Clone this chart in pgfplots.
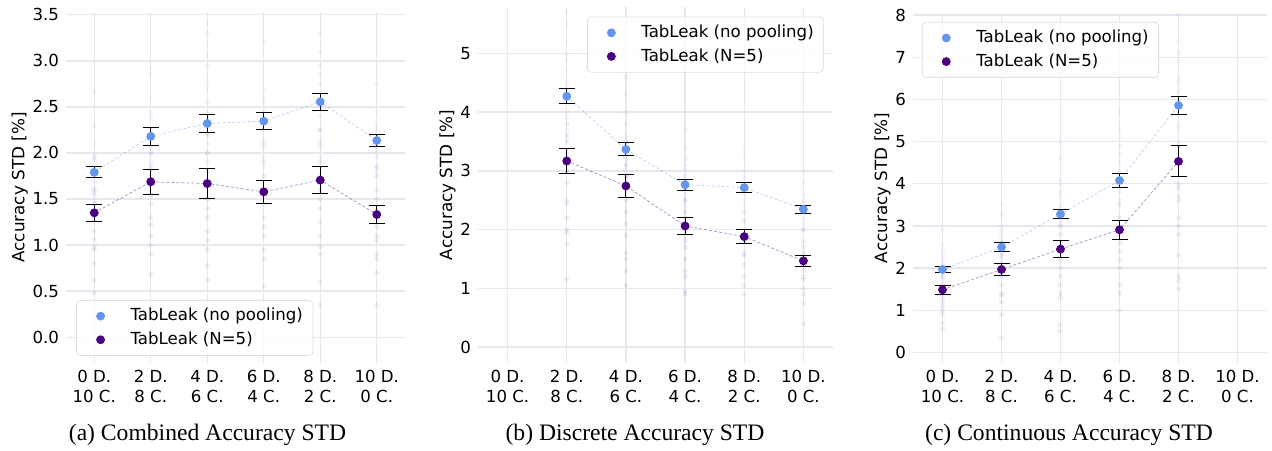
\documentclass[border=0pt]{standalone}
\usepackage{fontspec}
\setmainfont{DejaVu Sans}
\newfontfamily\capfont{Liberation Serif}
\usepackage{pgfplots}
\pgfplotsset{compat=1.18}
\definecolor{cblue}{HTML}{6495ED}
\definecolor{cpurp}{HTML}{4B0082}
\definecolor{gridc}{HTML}{E8E8EC}

\pgfplotsset{
  panel/.style={
    scale only axis, anchor=south west,
    xmin=-0.5, xmax=5.5,
    axis line style={draw=none},
    major tick length=0pt,
    grid=major, grid style={gridc, line width=0.7pt},
    xtick={0,...,5},
    xticklabels={{0 D.\\10 C.},{2 D.\\8 C.},{4 D.\\6 C.},{6 D.\\4 C.},{8 D.\\2 C.},{10 D.\\0 C.}},
    xticklabel style={align=center, font=\fontsize{8.3}{10}\selectfont},
    yticklabel style={font=\fontsize{8.3}{10}\selectfont},
    /pgf/number format/assume math mode=true,
    ylabel={Accuracy STD [\%]},
    ylabel style={font=\fontsize{8.4}{10}\selectfont},
    ylabel shift=-4.5pt,
    legend cell align=left,
    legend image code/.code={\path[draw=none] (0pt,0pt) -- (22pt,0pt);
      \draw[#1, fill opacity=1, draw opacity=1] plot coordinates {(9pt,0pt)};},
    legend style={draw=gray!25, rounded corners=2pt, fill=white, fill opacity=0.8,
      text opacity=1, font=\fontsize{8.3}{10}\selectfont, row sep=0pt,
      inner xsep=3pt, inner ysep=2pt},
  },
  faint/.style={forget plot, only marks, mark=*, mark size=1.3pt,
    mark options={draw opacity=0, fill opacity=0.07}},
  conn/.style={forget plot, no marks, line width=0.35pt, draw opacity=0.45,
    dash pattern=on 1.5pt off 1pt},
  ebar/.style={forget plot, draw=none, mark=none,
    error bars/.cd, y dir=both, y explicit,
    error bar style={draw=black, line width=0.55pt},
    error mark options={rotate=90, mark size=4pt, draw=black, line width=0.5pt}},
  pts/.style={forget plot, only marks, mark=*, mark size=2pt},
}

\begin{document}
\begin{tikzpicture}
\path[use as bounding box] (0,0) rectangle (636pt,225pt);

% (a) combined
\begin{axis}[panel, at={(33pt,43.5pt)}, width=169.5pt, height=175.5pt,
  ymin=-0.28, ymax=3.53, ytick={0,0.5,...,3.5},
  yticklabel style={/pgf/number format/.cd, fixed, fixed zerofill, precision=1},
  legend style={at={(0.03,0.02)}, anchor=south west}]
\addplot[faint, cblue] coordinates {
 (0,2.67) (0,2.30) (0,2.09) (0,1.98) (0,1.92) (0,1.85) (0,1.78) (0,1.69) (0,1.62) (0,1.58) (0,1.49)
 (1,2.92) (1,2.85) (1,2.60) (1,2.45) (1,2.38) (1,2.25) (1,2.15) (1,2.05) (1,1.98) (1,1.90) (1,1.80) (1,1.70)
 (2,3.40) (2,3.30) (2,3.05) (2,2.95) (2,2.75) (2,2.70) (2,2.55) (2,2.45) (2,2.30) (2,2.20) (2,2.10) (2,2.00) (2,1.90)
 (3,3.20) (3,2.70) (3,2.60) (3,2.55) (3,2.45) (3,2.35) (3,2.25) (3,2.15) (3,2.05) (3,1.95) (3,1.85)
 (4,3.30) (4,3.10) (4,2.95) (4,2.85) (4,2.75) (4,2.65) (4,2.50) (4,2.40) (4,2.25) (4,2.15) (4,2.05) (4,1.95)
 (5,2.75) (5,2.45) (5,2.30) (5,2.25) (5,2.15) (5,2.08) (5,2.00) (5,1.95) (5,1.85) (5,1.80)};
\addplot[faint, cpurp] coordinates {
 (0,1.95) (0,1.60) (0,1.55) (0,1.45) (0,1.35) (0,1.27) (0,1.15) (0,1.06) (0,0.98) (0,0.95) (0,0.80) (0,0.62) (0,0.48)
 (1,2.00) (1,1.85) (1,1.75) (1,1.65) (1,1.55) (1,1.45) (1,1.30) (1,1.22) (1,1.10) (1,1.00) (1,0.90) (1,0.68)
 (2,2.20) (2,2.00) (2,1.80) (2,1.65) (2,1.50) (2,1.40) (2,1.30) (2,1.15) (2,1.05) (2,0.95) (2,0.78) (2,0.62)
 (3,2.10) (3,1.90) (3,1.75) (3,1.60) (3,1.45) (3,1.30) (3,1.20) (3,1.10) (3,0.95) (3,0.85) (3,0.55)
 (4,2.25) (4,2.10) (4,1.90) (4,1.75) (4,1.60) (4,1.50) (4,1.40) (4,1.25) (4,1.10) (4,0.98) (4,0.90) (4,0.60) (4,0.35)
 (5,1.85) (5,1.75) (5,1.60) (5,1.50) (5,1.40) (5,1.30) (5,1.20) (5,1.10) (5,1.05) (5,0.90) (5,0.85) (5,0.70) (5,0.35)};
\addplot[conn, cblue] coordinates {(0,1.79) (1,2.18) (2,2.32) (3,2.345) (4,2.555) (5,2.135)};
\addplot[conn, cpurp] coordinates {(0,1.35) (1,1.687) (2,1.668) (3,1.578) (4,1.705) (5,1.332)};
\addplot[ebar] coordinates {(0,1.79) +- (0,0.058) (1,2.18) +- (0,0.10) (2,2.32) +- (0,0.10)
  (3,2.345) +- (0,0.092) (4,2.555) +- (0,0.093) (5,2.135) +- (0,0.065)};
\addplot[ebar] coordinates {(0,1.35) +- (0,0.092) (1,1.687) +- (0,0.134) (2,1.668) +- (0,0.16)
  (3,1.578) +- (0,0.122) (4,1.705) +- (0,0.149) (5,1.332) +- (0,0.093)};
\addplot[pts, cblue] coordinates {(0,1.79) (1,2.18) (2,2.32) (3,2.345) (4,2.555) (5,2.135)};
\addplot[pts, cpurp] coordinates {(0,1.35) (1,1.687) (2,1.668) (3,1.578) (4,1.705) (5,1.332)};
\addlegendimage{only marks, mark=*, mark size=2pt, cblue}
\addlegendentry{TabLeak (no pooling)}
\addlegendimage{only marks, mark=*, mark size=2pt, cpurp}
\addlegendentry{TabLeak (N=5)}
\end{axis}

% (b) discrete
\begin{axis}[panel, at={(239pt,43.5pt)}, width=177.5pt, height=178pt,
  ymin=-0.27, ymax=5.79, ytick={0,1,...,5},
  legend style={at={(0.975,0.973)}, anchor=north east}]
\addplot[faint, cblue] coordinates {
 (1,5.7) (1,5.5) (1,5.2) (1,5.0) (1,4.9) (1,4.7) (1,4.5) (1,4.4) (1,4.2) (1,4.0) (1,3.9) (1,3.7)
 (2,4.6) (2,4.3) (2,4.0) (2,3.8) (2,3.6) (2,3.5) (2,3.4) (2,3.3) (2,3.2) (2,3.0) (2,2.9)
 (3,3.7) (3,3.4) (3,3.2) (3,3.1) (3,3.0) (3,2.9) (3,2.8) (3,2.7) (3,2.6) (3,2.5) (3,2.4)
 (4,3.4) (4,3.3) (4,3.2) (4,3.0) (4,2.9) (4,2.8) (4,2.7) (4,2.6) (4,2.5) (4,2.4)
 (5,3.0) (5,2.8) (5,2.6) (5,2.5) (5,2.45) (5,2.35) (5,2.3) (5,2.2) (5,2.1) (5,2.0)};
\addplot[faint, cpurp] coordinates {
 (1,3.8) (1,3.6) (1,3.5) (1,3.3) (1,3.1) (1,3.0) (1,2.8) (1,2.5) (1,2.45) (1,2.2) (1,2.0) (1,1.95) (1,1.75) (1,1.15)
 (2,3.3) (2,3.1) (2,2.9) (2,2.7) (2,2.5) (2,2.3) (2,2.1) (2,1.9) (2,1.6) (2,1.5) (2,1.3) (2,1.05)
 (3,2.7) (3,2.5) (3,2.3) (3,2.2) (3,2.0) (3,1.9) (3,1.8) (3,1.7) (3,1.5) (3,1.3) (3,1.2) (3,0.95) (3,0.9)
 (4,2.3) (4,2.15) (4,2.0) (4,1.9) (4,1.8) (4,1.6) (4,1.55) (4,1.4) (4,1.2) (4,1.05) (4,0.9)
 (5,2.0) (5,1.8) (5,1.7) (5,1.6) (5,1.5) (5,1.4) (5,1.3) (5,1.2) (5,1.15) (5,1.0) (5,0.9) (5,0.75) (5,0.4)};
\addplot[conn, cblue] coordinates {(1,4.27) (2,3.367) (3,2.766) (4,2.715) (5,2.347)};
\addplot[conn, cpurp] coordinates {(1,3.169) (2,2.744) (3,2.063) (4,1.882) (5,1.468)};
\addplot[ebar] coordinates {(1,4.27) +- (0,0.13) (2,3.367) +- (0,0.113) (3,2.766) +- (0,0.093)
  (4,2.715) +- (0,0.083) (5,2.347) +- (0,0.07)};
\addplot[ebar] coordinates {(1,3.169) +- (0,0.213) (2,2.744) +- (0,0.193) (3,2.063) +- (0,0.142)
  (4,1.882) +- (0,0.119) (5,1.468) +- (0,0.10)};
\addplot[pts, cblue] coordinates {(1,4.27) (2,3.367) (3,2.766) (4,2.715) (5,2.347)};
\addplot[pts, cpurp] coordinates {(1,3.169) (2,2.744) (3,2.063) (4,1.882) (5,1.468)};
\addlegendimage{only marks, mark=*, mark size=2pt, cblue}
\addlegendentry{TabLeak (no pooling)}
\addlegendimage{only marks, mark=*, mark size=2pt, cpurp}
\addlegendentry{TabLeak (N=5)}
\end{axis}

% (c) continuous
\begin{axis}[panel, at={(456.5pt,43.5pt)}, width=177pt, height=175pt,
  ymin=-0.25, ymax=8.05, ytick={0,1,...,8},
  legend style={at={(0.025,0.975)}, anchor=north west}]
\addplot[faint, cblue] coordinates {
 (0,2.9) (0,2.55) (0,2.4) (0,2.3) (0,2.2) (0,2.1) (0,2.0) (0,1.9) (0,1.8) (0,1.7)
 (1,3.5) (1,3.3) (1,3.2) (1,3.0) (1,2.9) (1,2.8) (1,2.7) (1,2.6) (1,2.4) (1,2.3) (1,2.2)
 (2,5.0) (2,4.6) (2,4.1) (2,4.0) (2,3.8) (2,3.7) (2,3.5) (2,3.4) (2,3.3) (2,3.1) (2,3.0)
 (3,5.7) (3,5.3) (3,5.1) (3,4.9) (3,4.7) (3,4.5) (3,4.3) (3,4.1) (3,3.9) (3,3.8) (3,3.6)
 (4,8.0) (4,7.4) (4,7.1) (4,6.9) (4,6.5) (4,6.4) (4,6.2) (4,6.0) (4,5.6) (4,5.4) (4,5.3) (4,5.0)};
\addplot[faint, cpurp] coordinates {
 (0,1.8) (0,1.6) (0,1.5) (0,1.4) (0,1.3) (0,1.2) (0,1.1) (0,1.0) (0,0.9) (0,0.7) (0,0.55)
 (1,2.6) (1,2.3) (1,2.1) (1,2.0) (1,1.8) (1,1.6) (1,1.4) (1,1.35) (1,1.2) (1,0.9) (1,0.35)
 (2,3.2) (2,3.0) (2,2.8) (2,2.6) (2,2.4) (2,2.2) (2,2.0) (2,1.8) (2,1.6) (2,1.4) (2,1.3) (2,0.65) (2,0.5)
 (3,3.5) (3,3.2) (3,3.0) (3,2.8) (3,2.6) (3,2.4) (3,2.2) (3,2.0) (3,1.6) (3,1.4) (3,1.0)
 (4,4.9) (4,4.0) (4,3.9) (4,3.7) (4,3.6) (4,3.2) (4,3.0) (4,2.8) (4,2.3) (4,1.8) (4,1.7) (4,1.5)};
\addplot[conn, cblue] coordinates {(0,1.968) (1,2.498) (2,3.281) (3,4.079) (4,5.858)};
\addplot[conn, cpurp] coordinates {(0,1.486) (1,1.968) (2,2.451) (3,2.909) (4,4.53)};
\addplot[ebar] coordinates {(0,1.968) +- (0,0.066) (1,2.498) +- (0,0.099) (2,3.281) +- (0,0.115)
  (3,4.079) +- (0,0.17) (4,5.858) +- (0,0.205)};
\addplot[ebar] coordinates {(0,1.486) +- (0,0.103) (1,1.968) +- (0,0.15) (2,2.451) +- (0,0.194)
  (3,2.909) +- (0,0.225) (4,4.53) +- (0,0.368)};
\addplot[pts, cblue] coordinates {(0,1.968) (1,2.498) (2,3.281) (3,4.079) (4,5.858)};
\addplot[pts, cpurp] coordinates {(0,1.486) (1,1.968) (2,2.451) (3,2.909) (4,4.53)};
\addlegendimage{only marks, mark=*, mark size=2pt, cblue}
\addlegendentry{TabLeak (no pooling)}
\addlegendimage{only marks, mark=*, mark size=2pt, cpurp}
\addlegendentry{TabLeak (N=5)}
\end{axis}

\node[font=\capfont\fontsize{11.8}{14}\selectfont] at (103.75pt,7.5pt) {(a) Combined Accuracy STD};
\node[font=\capfont\fontsize{11.8}{14}\selectfont] at (317.5pt,7.5pt) {(b) Discrete Accuracy STD};
\node[font=\capfont\fontsize{11.8}{14}\selectfont] at (534.5pt,7.5pt) {(c) Continuous Accuracy STD};
\end{tikzpicture}
\end{document}
